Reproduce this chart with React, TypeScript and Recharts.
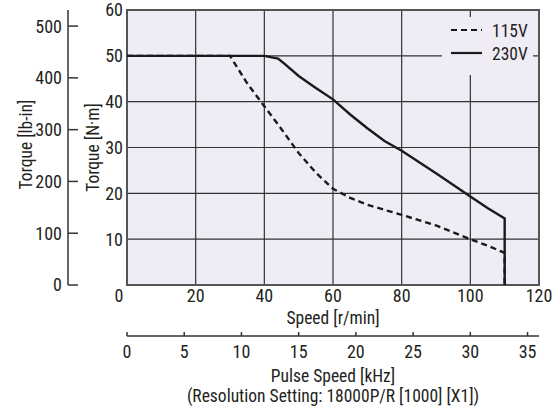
import {
  ComposedChart,
  Line,
  XAxis,
  YAxis,
  CartesianGrid,
  ReferenceArea,
} from "recharts";

// Speed-torque characteristics (Speed in r/min, Torque in N·m)
const speed115 = [0, 30, 35, 40, 45, 50, 55, 60, 65, 70, 80, 90, 100, 105, 110, 110];
const torque115 = [50, 50, 44, 39, 34, 28.8, 24.5, 21, 19, 17.5, 15.3, 13, 10, 8.6, 7, 0];
const speed230 = [0, 40, 44, 46, 50, 55, 60, 65, 70, 75, 80, 90, 100, 105, 110, 110];
const torque230 = [50, 50, 49.4, 48.2, 45.6, 43, 40.5, 37.2, 34.2, 31.4, 29.3, 24.4, 19.3, 16.8, 14.5, 0];

const speedTicks = [0, 20, 40, 60, 80, 100, 120];
const nmTicks = [10, 20, 30, 40, 50, 60];
const lbTicks = [0, 100, 200, 300, 400, 500];
const pulseTicks = [0, 5, 10, 15, 20, 25, 30, 35];

const NM_TO_LBIN = 8.8507;
const FONT = "'Liberation Sans Narrow', 'Roboto Condensed', 'DejaVu Sans Condensed', sans-serif";
const TEXT = "#231f20";
const BG = "#f0ecf5";
const TICK_FS = 18;
const LABEL_FS = 17.5;

const data115 = speed115.map((s, i) => ({ speed: s, t115: torque115[i] }));
const data230 = speed230.map((s, i) => ({ speed: s, t230: torque230[i] }));

const LbTick = (props: any) => {
  const { x, y, payload } = props;
  return (
    <g>
      <line x1={x} x2={x + 10} y1={y} y2={y} stroke="#333" strokeWidth={1.5} />
      <text x={x - 6} y={y} dy="0.36em" textAnchor="end" fontSize={TICK_FS} fill={TEXT} fontFamily={FONT}>
        {payload.value}
      </text>
    </g>
  );
};

const PulseTick = (props: any) => {
  const { x, y, payload } = props;
  return (
    <g>
      <line x1={x} x2={x} y1={y} y2={y - 4} stroke="#333" strokeWidth={1.5} />
      <text x={x} y={y + 22} textAnchor="middle" fontSize={TICK_FS} fill={TEXT} fontFamily={FONT}>
        {payload.value}
      </text>
    </g>
  );
};

const SpeedTick = (props: any) => {
  const { x, y, payload } = props;
  const shift = payload.value === 0 ? -8 : 0;
  return (
    <text x={x + shift} y={y + 17} textAnchor="middle" fontSize={TICK_FS} fill={TEXT} fontFamily={FONT}>
      {payload.value}
    </text>
  );
};

const PulseLabel = (props: any) => {
  const vb = props.viewBox || {};
  const cx = vb.x + vb.width / 2;
  return (
    <g fontFamily={FONT} fontSize={LABEL_FS} fill={TEXT}>
      <text x={cx} y={vb.y + 46} textAnchor="middle">Pulse Speed [kHz]</text>
      <text x={cx} y={vb.y + 66} textAnchor="middle">(Resolution Setting: 18000P/R [1000] [X1])</text>
    </g>
  );
};

const LegendBox = () => (
  <div style={{ position: "absolute", left: 442, top: 17, width: 91, height: 58, background: BG }}>
    <svg width={91} height={58}>
      <line x1={9} x2={40} y1={13} y2={13} stroke="#1a1a1a" strokeWidth={2.2} strokeDasharray="6 4" />
      <text x={50} y={20} fontSize={LABEL_FS} fill={TEXT} fontFamily={FONT}>115V</text>
      <line x1={9} x2={40} y1={36} y2={36} stroke="#1a1a1a" strokeWidth={2.2} />
      <text x={50} y={43} fontSize={LABEL_FS} fill={TEXT} fontFamily={FONT}>230V</text>
    </svg>
  </div>
);

export default function App() {
  return (
    <div style={{ position: "absolute", left: 0, top: 0, width: 555, height: 409, background: "#fff" }}>
      <ComposedChart
        width={555}
        height={409}
        margin={{ top: 10, right: 16, bottom: 0, left: 0 }}
      >
        <CartesianGrid
          xAxisId="a_speed"
          yAxisId="a_nm"
          fill={BG}
          fillOpacity={1}
          stroke="#333"
          strokeWidth={1.2}
          horizontalValues={[10, 20, 30, 40, 50]}
          verticalValues={[20, 40, 60, 80, 100]}
        />
        <XAxis
          xAxisId="b_pulse"
          dataKey="speed"
          type="number"
          domain={[0, 36]}
          allowDataOverflow
          ticks={pulseTicks}
          interval={0}
          height={73}
          axisLine={{ stroke: "#333", strokeWidth: 1.5 }}
          tickLine={false}
          tickSize={0}
          tickMargin={0}
          tick={<PulseTick />}
          label={<PulseLabel />}
        />
        <XAxis
          xAxisId="a_speed"
          dataKey="speed"
          type="number"
          domain={[0, 120]}
          allowDataOverflow
          ticks={speedTicks}
          interval={0}
          height={51}
          axisLine={false}
          tickLine={false}
          tickSize={0}
          tickMargin={0}
          tick={<SpeedTick />}
          label={{
            value: "Speed [r/min]",
            position: "insideBottom",
            offset: 12,
            fontSize: LABEL_FS,
            fill: TEXT,
            fontFamily: FONT,
          }}
        />
        <YAxis
          yAxisId="b_lb"
          type="number"
          domain={[0, 60 * NM_TO_LBIN]}
          allowDataOverflow
          ticks={lbTicks}
          interval={0}
          width={68}
          axisLine={{ stroke: "#333", strokeWidth: 1.5 }}
          tickLine={false}
          tickSize={0}
          tickMargin={0}
          tick={<LbTick />}
          label={{
            value: "Torque [lb-in]",
            angle: -90,
            position: "center",
            dx: -8,
            dy: -3,
            fontSize: LABEL_FS,
            fill: TEXT,
            fontFamily: FONT,
          }}
        />
        <YAxis
          yAxisId="a_nm"
          type="number"
          domain={[0, 60]}
          allowDataOverflow
          ticks={nmTicks}
          interval={0}
          width={59}
          axisLine={false}
          tickLine={false}
          tickSize={0}
          tickMargin={4}
          tick={{ fontSize: TICK_FS, fill: TEXT, fontFamily: FONT }}
          label={{
            value: "Torque [N·m]",
            angle: -90,
            position: "center",
            dx: -5,
            fontSize: LABEL_FS,
            fill: TEXT,
            fontFamily: FONT,
          }}
        />
        <ReferenceArea
          xAxisId="a_speed"
          yAxisId="a_nm"
          x1={0}
          x2={120}
          y1={0}
          y2={60}
          fill="none"
          stroke="#555"
          strokeWidth={2}
        />
        <Line
          xAxisId="a_speed"
          yAxisId="a_nm"
          data={data115}
          dataKey="t115"
          type="linear"
          stroke="#1a1a1a"
          strokeWidth={2.4}
          strokeDasharray="6 4"
          dot={false}
          isAnimationActive={false}
        />
        <Line
          xAxisId="a_speed"
          yAxisId="a_nm"
          data={data230}
          dataKey="t230"
          type="linear"
          stroke="#1a1a1a"
          strokeWidth={2.4}
          dot={false}
          isAnimationActive={false}
        />
      </ComposedChart>
      <LegendBox />
    </div>
  );
}
